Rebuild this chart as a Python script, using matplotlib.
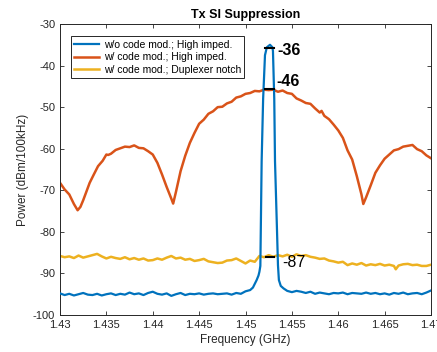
import numpy as np
from matplotlib import pyplot as plt

plt.rcParams['font.family'] = ['Liberation Sans', 'DejaVu Sans']
plt.rcParams['axes.unicode_minus'] = False

# orange: w/ code mod.; High imped.
f_hi = [1.4300, 1.4305, 1.4310, 1.4315, 1.4319, 1.4322, 1.4325, 1.4328, 1.4332, 1.4336,
        1.4341, 1.4346, 1.4350, 1.4352, 1.4355, 1.4360, 1.4365, 1.4370, 1.4375, 1.4380,
        1.4385, 1.4390, 1.4395, 1.4400, 1.4405, 1.4410, 1.4415, 1.4420, 1.4422, 1.4425,
        1.4430, 1.4435, 1.4440, 1.4445, 1.4450, 1.4455, 1.4460, 1.4465, 1.4470, 1.4475,
        1.4480, 1.4485, 1.4490, 1.4495, 1.4500, 1.4505, 1.4510, 1.4515, 1.4520, 1.4525,
        1.4530, 1.4535, 1.4540, 1.4545, 1.4550, 1.4555, 1.4560, 1.4565, 1.4570, 1.4575,
        1.4580, 1.4582, 1.4585, 1.4590, 1.4595, 1.4600, 1.4605, 1.4610, 1.4615, 1.4620,
        1.4625, 1.4627, 1.4630, 1.4635, 1.4640, 1.4645, 1.4650, 1.4655, 1.4660, 1.4665,
        1.4670, 1.4675, 1.4680, 1.4685, 1.4690, 1.4695, 1.4700]
p_hi = [-68.2, -69.8, -71.0, -73.3, -74.8, -74.0, -72.4, -70.6, -68.2, -66.4,
        -64.2, -62.9, -61.4, -61.5, -61.2, -60.3, -59.9, -59.5, -59.6, -59.2,
        -59.8, -59.9, -60.6, -61.4, -63.4, -66.2, -69.2, -72.0, -73.2, -70.4,
        -65.4, -61.7, -58.6, -56.2, -54.0, -53.0, -51.6, -51.0, -50.0, -49.9,
        -49.1, -48.7, -47.7, -47.4, -46.8, -46.6, -46.1, -46.2, -45.8, -45.9,
        -45.8, -46.3, -46.0, -46.6, -46.8, -47.9, -48.4, -49.0, -49.2, -50.3,
        -51.3, -50.9, -52.1, -52.9, -54.2, -55.6, -57.4, -60.4, -62.6, -66.6,
        -71.0, -73.3, -71.7, -68.8, -65.8, -64.0, -62.4, -61.4, -60.4, -60.1,
        -59.5, -59.3, -59.1, -60.1, -60.6, -61.6, -62.3]

# yellow: w/ code mod.; Duplexer notch
f_dn = [1.4300, 1.4305, 1.4310, 1.4315, 1.4320, 1.4325, 1.4330, 1.4335, 1.4340, 1.4345,
        1.4350, 1.4355, 1.4360, 1.4365, 1.4370, 1.4375, 1.4380, 1.4385, 1.4390, 1.4395,
        1.4400, 1.4405, 1.4410, 1.4415, 1.4420, 1.4425, 1.4430, 1.4435, 1.4440, 1.4445,
        1.4450, 1.4455, 1.4460, 1.4465, 1.4470, 1.4475, 1.4480, 1.4485, 1.4490, 1.4495,
        1.4500, 1.4505, 1.4510, 1.4515, 1.4520, 1.4525, 1.4530, 1.4535, 1.4540, 1.4545,
        1.4550, 1.4555, 1.4560, 1.4565, 1.4570, 1.4575, 1.4580, 1.4585, 1.4590, 1.4595,
        1.4600, 1.4605, 1.4610, 1.4615, 1.4620, 1.4625, 1.4630, 1.4635, 1.4640, 1.4645,
        1.4650, 1.4655, 1.4660, 1.4662, 1.4665, 1.4670, 1.4675, 1.4680, 1.4685, 1.4690,
        1.4695, 1.4700]
p_dn = [-85.8, -86.1, -85.9, -86.3, -85.7, -86.2, -85.9, -85.6, -85.3, -85.9,
        -86.4, -86.0, -86.3, -86.5, -86.1, -86.6, -86.3, -86.7, -86.4, -86.9,
        -86.8, -86.4, -86.7, -86.2, -85.8, -86.4, -86.2, -86.7, -86.5, -87.0,
        -86.8, -86.5, -87.1, -87.3, -87.5, -87.4, -86.9, -86.8, -86.4, -87.0,
        -87.6, -86.9, -87.2, -85.8, -86.1, -85.6, -86.0, -85.6, -85.9, -85.5,
        -86.0, -85.4, -85.8, -85.6, -86.0, -86.2, -86.5, -86.4, -86.9, -87.1,
        -87.4, -87.2, -88.0, -87.6, -87.9, -87.5, -88.1, -87.8, -88.0, -87.7,
        -88.1, -87.9, -88.2, -89.0, -88.1, -87.8, -87.7, -88.0, -87.9, -88.2,
        -88.2, -87.9]

# blue: w/o code mod.; High imped.
f_wo = [1.4300, 1.4305, 1.4310, 1.4315, 1.4320, 1.4325, 1.4330, 1.4335, 1.4340, 1.4345,
        1.4350, 1.4355, 1.4360, 1.4365, 1.4370, 1.4375, 1.4380, 1.4385, 1.4390, 1.4395,
        1.4400, 1.4405, 1.4410, 1.4415, 1.4420, 1.4425, 1.4430, 1.4435, 1.4440, 1.4445,
        1.4450, 1.4455, 1.4460, 1.4465, 1.4470, 1.4475, 1.4480, 1.4485, 1.4490, 1.4495,
        1.4500, 1.4505, 1.4508, 1.4510, 1.4512, 1.4514, 1.4515, 1.4516, 1.45174, 1.4519,
        1.4521, 1.4523, 1.45264, 1.4529, 1.45296, 1.4531, 1.45318, 1.4534, 1.4535, 1.4536,
        1.4538, 1.4541, 1.4545, 1.4550, 1.4555, 1.4560, 1.4565, 1.4570, 1.4575, 1.4580,
        1.4585, 1.4590, 1.4595, 1.4600, 1.4605, 1.4610, 1.4615, 1.4620, 1.4625, 1.4630,
        1.4635, 1.4640, 1.4645, 1.4650, 1.4655, 1.4660, 1.4665, 1.4670, 1.4675, 1.4680,
        1.4685, 1.4690, 1.4695, 1.4700]
p_wo = [-94.8, -95.2, -94.9, -95.3, -95.0, -94.7, -95.1, -95.2, -94.9, -95.3,
        -95.0, -94.8, -95.2, -94.9, -95.1, -94.6, -95.0, -94.8, -95.2, -94.7,
        -94.4, -94.9, -95.1, -94.8, -95.4, -95.0, -94.7, -95.2, -94.9, -95.0,
        -94.8, -95.1, -94.9, -94.8, -95.0, -94.9, -94.8, -95.1, -94.7, -94.9,
        -94.3, -94.0, -93.4, -92.5, -91.6, -90.5, -89.6, -88.2, -63.0, -48.0,
        -37.5, -35.6, -35.0, -35.6, -36.5, -48.0, -63.0, -80.0, -88.0, -91.6,
        -93.0, -93.6, -94.2, -94.5, -94.2, -94.4, -94.7, -94.4, -94.9, -94.6,
        -94.8, -95.0, -94.7, -94.8, -94.6, -95.0, -94.7, -94.8, -94.9, -94.6,
        -94.9, -94.7, -95.0, -94.8, -95.1, -94.7, -94.9, -94.6, -95.0, -94.8,
        -94.7, -95.0, -94.6, -94.1]

xticks = [1.43, 1.435, 1.44, 1.445, 1.45, 1.455, 1.46, 1.465, 1.47]
xticklabels = ['1.43', '1.435', '1.44', '1.445', '1.45', '1.455', '1.46', '1.465', '1.47']
yticks = [-100, -90, -80, -70, -60, -50, -40, -30]

# marker annotations: (f_start, f_end, level, label, text_f, text_y, bold)
marks = [(1.4521, 1.4531, -35.7, '-36', 1.4534, -36.3, True),
         (1.4521, 1.4531, -45.6, '-46', 1.4533, -43.9, True),
         (1.4522, 1.4531, -86.0, '-87', 1.4540, -87.4, False)]

fig = plt.figure(figsize=(4.37, 3.52), dpi=100)
ax = fig.add_axes([0.1373, 0.1051, 0.849, 0.8267])

ax.plot(f_wo, p_wo, color='#0072BD', lw=1.6, label='w/o code mod.; High imped.', zorder=3)
ax.plot(f_hi, p_hi, color='#D95319', lw=1.8, label='w/ code mod.; High imped.', zorder=2)
ax.plot(f_dn, p_dn, color='#EDB120', lw=1.8, label='w/ code mod.; Duplexer notch', zorder=2)

for f0, f1, lev, txt, tf, ty, bold in marks:
    ax.plot([f0, f1], [lev, lev], color='black', lw=1.5, zorder=4)
    ax.text(tf, ty, txt, fontsize=11.5, fontweight='bold' if bold else 'normal',
            ha='left', va='center', zorder=5)

ax.set_xlim(1.43, 1.47)
ax.set_ylim(-100, -30)
ax.set_xticks(xticks)
ax.set_xticklabels(xticklabels)
ax.set_yticks(yticks)
ax.tick_params(direction='in', length=3, width=0.6, labelsize=8, top=True, right=True,
               colors='#262626')
for s in ax.spines.values():
    s.set_linewidth(0.7)
    s.set_color('#262626')

ax.set_xlabel('Frequency (GHz)', fontsize=8.5, color='#262626', labelpad=3)
ax.set_ylabel('Power (dBm/100kHz)', fontsize=8.5, color='#262626', labelpad=3)
ax.set_title('Tx SI Suppression', fontsize=9, fontweight='bold', pad=4)

leg = ax.legend(loc='upper left', bbox_to_anchor=(0.029, 0.959), borderaxespad=0,
                fontsize=7.5, frameon=True, fancybox=False, framealpha=1,
                handlelength=2.4, labelspacing=0.25, borderpad=0.35, handletextpad=0.4)
leg.get_frame().set_edgecolor('#262626')
leg.get_frame().set_linewidth(0.7)

fig.savefig('out.png', dpi=100)
